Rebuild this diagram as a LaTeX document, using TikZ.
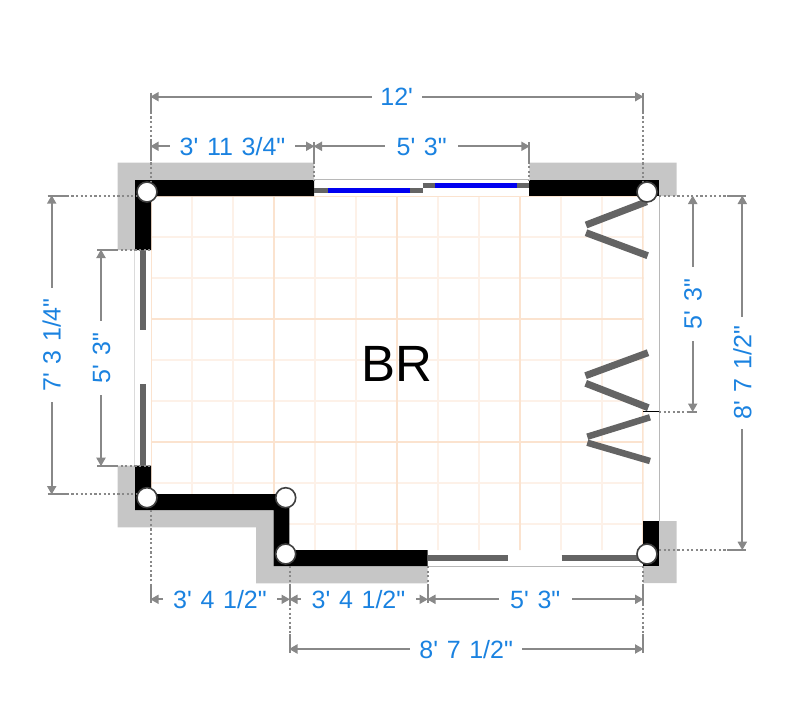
\documentclass[tikz,border=0pt]{standalone}
\usepackage{fontspec}
\usetikzlibrary{arrows.meta}
\newfontfamily\planfont[WordSpace=1.25]{Liberation Sans}
\definecolor{wallgray}{HTML}{C6C6C6}
\definecolor{leafgray}{HTML}{646464}
\definecolor{dimgray}{HTML}{888888}
\definecolor{dimblue}{HTML}{1A82E0}
\definecolor{gridminor}{HTML}{FDF1E8}
\definecolor{gridmajor}{HTML}{FBE3CF}
\definecolor{paneblue}{HTML}{0000F0}
\tikzset{
  dimline/.style={draw=dimgray, line width=2pt, arrows={Triangle[length=8.5pt,width=9pt]-}, shorten <=-0.5pt},
  dimbar/.style={draw=dimgray, line width=2pt},
  dimdot/.style={draw=dimgray, line width=2pt, dash pattern=on 2.2pt off 2.4pt},
  dimlabel/.style={font=\planfont\fontsize{25}{25}\selectfont, text=dimblue, inner sep=0pt, text height=18pt, text depth=0pt},
  corner/.style={circle, draw=black!75, fill=white, line width=1.6pt, minimum size=20pt, inner sep=0pt},
  leaf/.style={draw=leafgray, line width=5.5pt},
  sash/.style={draw=leafgray, line width=5pt},
  pane/.style={draw=paneblue, line width=5pt},
  thinwall/.style={draw=black!28, line width=1pt}
}
\begin{document}
\begin{tikzpicture}[x=1pt, y=-1pt]
  \useasboundingbox (0,0) rectangle (804,728);
  % floor grid
  \begin{scope}
    \clip (151,196) -- (643.5,196) -- (643.5,550) -- (289,550) -- (289,494) -- (151,494) -- cycle;
    \foreach \gx in {192,233,315,356,438,479,561,602}
      \draw[gridminor, line width=1.5pt] (\gx,190) -- (\gx,570);
    \foreach \gy in {237,278,360,401,483,524}
      \draw[gridminor, line width=1.5pt] (145,\gy) -- (650,\gy);
    \foreach \gx in {151.7,274,397,520,643}
      \draw[gridmajor, line width=1.5pt] (\gx,190) -- (\gx,570);
    \foreach \gy in {196.5,319,442}
      \draw[gridmajor, line width=1.5pt] (145,\gy) -- (650,\gy);
  \end{scope}
  % outer finish
  \fill[wallgray] (117.5,250) -- (117.5,162.5) -- (314,162.5) -- (314,180) -- (135,180) -- (135,250) -- cycle;
  \fill[wallgray] (529.3,180) -- (529.3,162.5) -- (676.5,162.5) -- (676.5,196) -- (659,196) -- (659,180) -- cycle;
  \fill[wallgray] (659,521) -- (676.5,521) -- (676.5,583) -- (643,583) -- (643,566) -- (659,566) -- cycle;
  \fill[wallgray] (117.5,465.7) -- (135,465.7) -- (135,510) -- (273.5,510) -- (273.5,566) -- (427.5,566)
    -- (427.5,583.3) -- (256,583.3) -- (256,527.3) -- (117.5,527.3) -- cycle;
  % walls
  \fill[black] (135,250) -- (135,180) -- (314,180) -- (314,196) -- (151,196) -- (151,250) -- cycle;
  \fill[black] (529.3,180) rectangle (659,196);
  \fill[black] (643,521) rectangle (659,566);
  \fill[black] (135,465.7) -- (151,465.7) -- (151,494) -- (289.3,494) -- (289.3,550) -- (427.5,550)
    -- (427.5,566) -- (273.5,566) -- (273.5,510) -- (135,510) -- cycle;
  % openings
  \draw[thinwall] (314,179.5) -- (529.3,179.5);
  \draw[thinwall] (659.5,196) -- (659.5,521);
  \draw[thinwall] (427.5,566) -- (643,566);
  \draw[draw=black!14, line width=1pt] (134.7,250) -- (134.7,465.7);
  \draw[sash] (314,190) -- (422.7,190);
  \draw[sash] (422.7,185) -- (529.3,185);
  \draw[pane] (328,190) -- (410,190);
  \draw[pane] (435,185) -- (517,185);
  \draw[leaf] (143,250) -- (143,330);
  \draw[leaf] (143,384) -- (143,465.7);
  \draw[leaf] (427.5,558) -- (507.7,558);
  \draw[leaf] (561.7,558) -- (643,558);
  \draw[leaf, line width=7pt] (646.7,201.7) -- (586,225);
  \draw[leaf, line width=7pt] (586,232.7) -- (647.7,255.7);
  \draw[leaf, line width=7pt] (648,352.7) -- (585.5,375.7);
  \draw[leaf, line width=7pt] (585.7,383.3) -- (648.3,407.7);
  \draw[leaf, line width=6.5pt] (650,417.3) -- (587.3,436.7);
  \draw[leaf, line width=6.5pt] (587.3,442.7) -- (650,461);
  \draw[black, line width=1pt] (643,411.5) -- (659,411.5);
  \node[font=\planfont\fontsize{51}{51}\selectfont, inner sep=0pt] (roomname) at (396.5,364) {BR};
  % dimension ends
  \coordinate (topa) at (150.7,96.7);
  \coordinate (topb) at (643,96.7);
  \coordinate (seca) at (150.7,146.3);
  \coordinate (secb) at (314,146.3);
  \coordinate (secc) at (529.3,146.3);
  \coordinate (farlefta) at (51.7,195.7);
  \coordinate (farleftb) at (51.7,494);
  \coordinate (lefta) at (101,250);
  \coordinate (leftb) at (101,465.7);
  \coordinate (bota) at (150.7,599.3);
  \coordinate (botb) at (289.5,599.3);
  \coordinate (botc) at (427.5,599.3);
  \coordinate (botd) at (643,599.3);
  \coordinate (lowa) at (289.5,649);
  \coordinate (lowb) at (643,649);
  \coordinate (righta) at (692.7,196);
  \coordinate (rightb) at (692.7,411.5);
  \coordinate (farrighta) at (742.3,196);
  \coordinate (farrightb) at (742.3,549.7);
  % witness lines
  \draw[dimbar] ([yshift=4pt]topa) -- ([yshift=-15pt]topa);
  \draw[dimbar] ([yshift=4pt]topb) -- ([yshift=-15pt]topb);
  \draw[dimdot] ([yshift=-15pt]topa) -- (150.7,183);
  \draw[dimdot] ([yshift=-15pt]topb) -- (643,183);
  \draw[dimbar] ([yshift=4pt]seca) -- ([yshift=-15pt]seca);
  \draw[dimbar] ([yshift=4pt]secb) -- ([yshift=-15pt]secb);
  \draw[dimbar] ([yshift=4pt]secc) -- ([yshift=-15pt]secc);
  \draw[dimdot] ([yshift=-15pt]secb) -- (314,180);
  \draw[dimdot] ([yshift=-15pt]secc) -- (529.3,180);
  \draw[dimbar] ([xshift=-4pt]farlefta) -- ([xshift=15pt]farlefta);
  \draw[dimbar] ([xshift=-4pt]farleftb) -- ([xshift=15pt]farleftb);
  \draw[dimdot] ([xshift=15pt]farlefta) -- (137,195.7);
  \draw[dimdot] ([xshift=15pt]farleftb) -- (137,494);
  \draw[dimbar] ([xshift=-4pt]lefta) -- ([xshift=15pt]lefta);
  \draw[dimbar] ([xshift=-4pt]leftb) -- ([xshift=15pt]leftb);
  \draw[dimdot] ([xshift=15pt]lefta) -- (151,250);
  \draw[dimdot] ([xshift=15pt]leftb) -- (151,465.7);
  \draw[dimdot] (150.7,510) -- ([yshift=15pt]bota);
  \draw[dimdot] (289.5,566) -- ([yshift=15pt]botb);
  \draw[dimdot] (427.5,566) -- ([yshift=15pt]botc);
  \draw[dimdot] (643,566) -- ([yshift=15pt]botd);
  \draw[dimbar] ([yshift=15pt]bota) -- ([yshift=-4pt]bota);
  \draw[dimbar] ([yshift=15pt]botb) -- ([yshift=-4pt]botb);
  \draw[dimbar] ([yshift=15pt]botc) -- ([yshift=-4pt]botc);
  \draw[dimbar] ([yshift=15pt]botd) -- ([yshift=-4pt]botd);
  \draw[dimdot] ([yshift=-4pt]botb) -- ([yshift=15pt]lowa);
  \draw[dimdot] ([yshift=-4pt]botd) -- ([yshift=15pt]lowb);
  \draw[dimbar] ([yshift=15pt]lowa) -- ([yshift=-4pt]lowa);
  \draw[dimbar] ([yshift=15pt]lowb) -- ([yshift=-4pt]lowb);
  \draw[dimdot] (659,196) -- ([xshift=-15pt]farrighta);
  \draw[dimdot] (659,411.5) -- ([xshift=-6pt]rightb);
  \draw[dimdot] (659,549.7) -- ([xshift=-15pt]farrightb);
  \draw[dimbar] ([xshift=-6pt]rightb) -- ([xshift=4pt]rightb);
  \draw[dimbar] ([xshift=-15pt]farrighta) -- ([xshift=4pt]farrighta);
  \draw[dimbar] ([xshift=-15pt]farrightb) -- ([xshift=4pt]farrightb);
  % labels
  \node[dimlabel, minimum width=50pt] (toplabel) at (396.7,96.7) {12'};
  \node[dimlabel, minimum width=125pt] (seclabela) at (232.5,146.3) {3' 11 3/4"};
  \node[dimlabel, minimum width=73pt] (seclabelb) at (421.7,146.3) {5' 3"};
  \node[dimlabel, rotate=90, minimum width=114pt] (farleftlabel) at (51.7,345) {7' 3 1/4"};
  \node[dimlabel, rotate=90, minimum width=73pt] (leftlabel) at (101,358) {5' 3"};
  \node[dimlabel, minimum width=114pt] (botlabela) at (220,599.3) {3' 4 1/2"};
  \node[dimlabel, minimum width=114pt] (botlabelb) at (358.5,599.3) {3' 4 1/2"};
  \node[dimlabel, minimum width=73pt] (botlabelc) at (535.3,599.3) {5' 3"};
  \node[dimlabel, minimum width=112pt] (lowlabel) at (466.2,649) {8' 7 1/2"};
  \node[dimlabel, rotate=90, minimum width=73pt] (rightlabel) at (692.7,304) {5' 3"};
  \node[dimlabel, rotate=90, minimum width=111pt] (farrightlabel) at (742.3,372.8) {8' 7 1/2"};
  % dimension lines
  \draw[dimline] (topa) -- (toplabel);
  \draw[dimline] (topb) -- (toplabel);
  \draw[dimline] (seca) -- (seclabela);
  \draw[dimline] (secb) -- (seclabela);
  \draw[dimline] (secb) -- (seclabelb);
  \draw[dimline] (secc) -- (seclabelb);
  \draw[dimline] (farlefta) -- (farleftlabel);
  \draw[dimline] (farleftb) -- (farleftlabel);
  \draw[dimline] (lefta) -- (leftlabel);
  \draw[dimline] (leftb) -- (leftlabel);
  \draw[dimline] (bota) -- (botlabela);
  \draw[dimline] (botb) -- (botlabela);
  \draw[dimline] (botb) -- (botlabelb);
  \draw[dimline] (botc) -- (botlabelb);
  \draw[dimline] (botc) -- (botlabelc);
  \draw[dimline] (botd) -- (botlabelc);
  \draw[dimline] (lowa) -- (lowlabel);
  \draw[dimline] (lowb) -- (lowlabel);
  \draw[dimline] (righta) -- (rightlabel);
  \draw[dimline] (rightb) -- (rightlabel);
  \draw[dimline] (farrighta) -- (farrightlabel);
  \draw[dimline] (farrightb) -- (farrightlabel);
  % corners
  \node[corner] (cornera) at (147,192) {};
  \node[corner] (cornerb) at (647,192) {};
  \node[corner] (cornerc) at (647,554) {};
  \node[corner] (cornerd) at (285.7,554) {};
  \node[corner] (cornere) at (285.7,497.7) {};
  \node[corner] (cornerf) at (147,497.7) {};
\end{tikzpicture}
\end{document}
